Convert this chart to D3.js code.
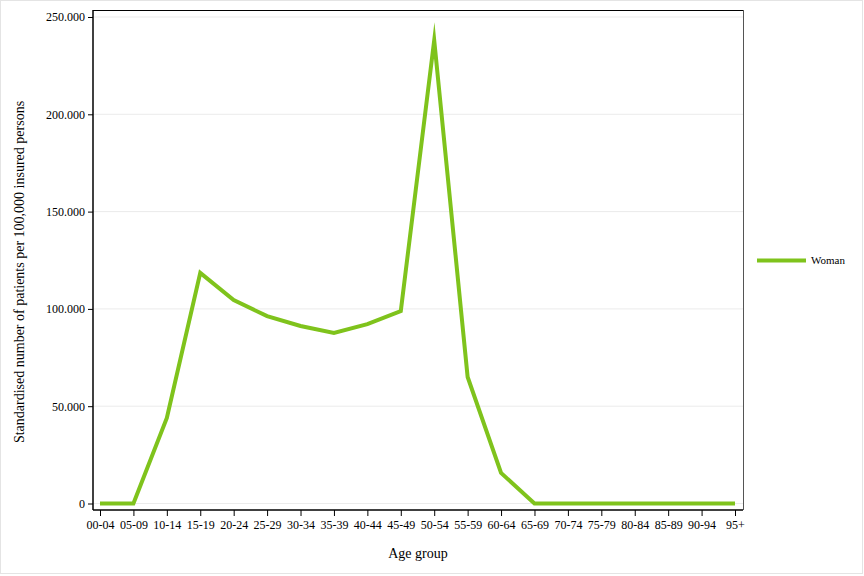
<!DOCTYPE html>
<html><head><meta charset="utf-8">
<script src="https://cdn.jsdelivr.net/npm/d3@7"></script>
<style>body{margin:0;background:#fff}svg{display:block}text{font-family:"Liberation Serif","Times New Roman",serif;fill:#000}</style>
</head><body>
<svg id="c" width="864" height="576"></svg>
<script>
const categories = ["00-04","05-09","10-14","15-19","20-24","25-29","30-34","35-39","40-44","45-49","50-54","55-59","60-64","65-69","70-74","75-79","80-84","85-89","90-94","95+"];
const womanValues = [0,0,44,118.5,104.5,96.3,91.2,87.6,92.2,98.9,238,65,15.7,0,0,0,0,0,0,0];
const yTicks = [0,50,100,150,200,250];
const seriesName = "Woman";
const color = "#7fc31c";

(function(){
const svg = d3.select("#c");
svg.append("rect").attr("x",0.5).attr("y",0.5).attr("width",862).attr("height",573).attr("fill","none").attr("stroke","#e4e4e4");

const pL=93, pR=743, pT=10, pB=510;
const x = d3.scalePoint().domain(categories).range([100,735]);
const y = d3.scaleLinear().domain([0,250]).range([503.5,17]);

svg.append("g").selectAll("line").data(yTicks).join("line")
  .attr("x1",pL).attr("x2",pR).attr("y1",d=>y(d)).attr("y2",d=>y(d))
  .attr("stroke","#ebebeb").attr("stroke-width",1);

svg.append("line").attr("x1",pL).attr("x2",pR).attr("y1",pT+0.5).attr("y2",pT+0.5).attr("stroke","#000");
svg.append("line").attr("x1",pR+0.5).attr("x2",pR+0.5).attr("y1",pT).attr("y2",pB).attr("stroke","#555");

const fmt = d => d===0 ? "0" : d3.format(".3f")(d);
const yAxis = d3.axisLeft(y).tickValues(yTicks).tickFormat(fmt).tickSize(5).tickPadding(3);
const gy = svg.append("g").attr("transform",`translate(${pL},0)`).call(yAxis);
gy.select(".domain").attr("d",`M0,${pT}V${pB}`).attr("stroke","#000").attr("stroke-width",1.5);
gy.selectAll("text").style("font-size","12px").style("font-family","Liberation Serif");

const xAxis = d3.axisBottom(x).tickSize(6).tickPadding(4);
const gx = svg.append("g").attr("transform",`translate(0,${pB})`).call(xAxis);
gx.select(".domain").attr("d",`M${pL},0H${pR}`).attr("stroke","#000").attr("stroke-width",1.5);
gx.selectAll("text").style("font-size","12px").style("font-family","Liberation Serif");

const line = d3.line().x((d,i)=>x(categories[i])).y(d=>y(d));
svg.append("path").datum(womanValues).attr("d",line).attr("fill","none")
  .attr("stroke",color).attr("stroke-width",4).attr("stroke-linejoin","miter").attr("stroke-miterlimit",10);

svg.append("text").attr("x",418).attr("y",558).attr("text-anchor","middle").style("font-size","14px").text("Age group");
svg.append("text").attr("transform","translate(24,272) rotate(-90)").attr("text-anchor","middle").style("font-size","14px").text("Standardised number of patients per 100,000 insured persons");

svg.append("line").attr("x1",757).attr("x2",806).attr("y1",260.5).attr("y2",260.5).attr("stroke",color).attr("stroke-width",4);
svg.append("text").attr("x",811).attr("y",264).style("font-size","11px").text(seriesName);
})();
</script>
</body></html>
